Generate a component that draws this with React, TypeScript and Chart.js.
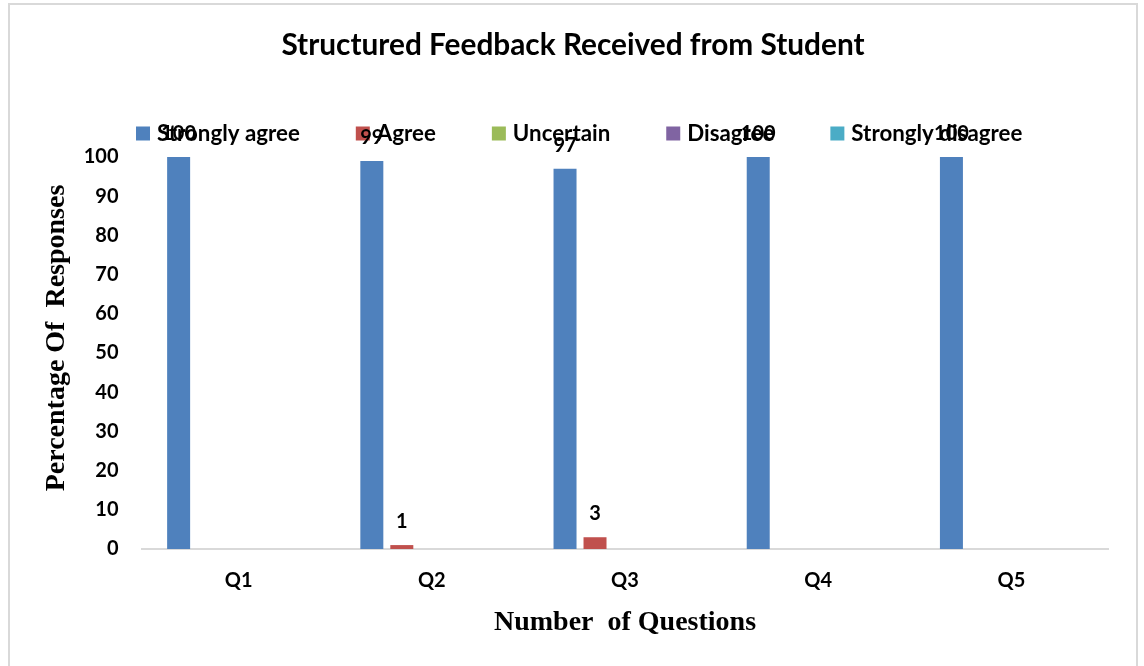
import React, { useEffect, useRef } from "react";
import { Chart, registerables } from "chart.js";

Chart.register(...registerables);

const categories = ["Q1", "Q2", "Q3", "Q4", "Q5"];
const seriesNames = ["Strongly agree", "Agree", "Uncertain", "Disagree", "Strongly disagree"];
const stronglyAgree = [100, 99, 97, 100, 100];
const agree = [0, 1, 3, 0, 0];
const uncertain = [0, 0, 0, 0, 0];
const disagree = [0, 0, 0, 0, 0];
const stronglyDisagree = [0, 0, 0, 0, 0];
const seriesColors = ["#4F81BD", "#C0504D", "#9BBB59", "#8064A2", "#4BACC6"];
const yMin = 0;
const yMax = 100;
const yStep = 10;

const CANVAS_W = 1126;
const CANVAS_H = 661;

const legendAndLabels = {
  id: "legendAndLabels",
  afterDatasetsDraw(chart: any) {
    const ctx = chart.ctx;
    ctx.save();
    // legend
    ctx.font = "bold 22.3px Lato";
    ctx.textBaseline = "middle";
    ctx.textAlign = "left";
    let x = 126;
    const cy = 128.5;
    chart.data.datasets.forEach((ds: any) => {
      ctx.fillStyle = ds.backgroundColor;
      ctx.fillRect(x, cy - 7, 14, 14);
      x += 14 + 7;
      ctx.fillStyle = "#000";
      ctx.fillText(ds.label, x, cy);
      x += ctx.measureText(ds.label).width + 56;
    });
    // data labels
    ctx.font = "bold 20px Lato";
    ctx.textAlign = "center";
    ctx.textBaseline = "alphabetic";
    ctx.fillStyle = "#000";
    chart.data.datasets.forEach((ds: any, i: number) => {
      const meta = chart.getDatasetMeta(i);
      meta.data.forEach((bar: any, j: number) => {
        const v = ds.data[j];
        if (v > 0) ctx.fillText(String(v), bar.x, bar.y - 17);
      });
    });
    ctx.restore();
  },
};

// shift the chart title and the y-axis title to where the reference places them
const shiftTitles = {
  id: "shiftTitles",
  beforeDraw(chart: any) {
    const s = chart.scales.y;
    if (s && !s._shiftWrapped) {
      const orig = s.drawTitle.bind(s);
      s.drawTitle = function () {
        const c = chart.ctx;
        c.save();
        c.translate(0, -15);
        orig();
        c.restore();
      };
      s._shiftWrapped = true;
    }
    const t = chart.titleBlock;
    if (t && !t._shiftWrapped) {
      const origT = t.draw.bind(t);
      t.draw = function () {
        const c = chart.ctx;
        c.save();
        c.translate(14, 0);
        origT();
        c.restore();
      };
      t._shiftWrapped = true;
    }
  },
};

export default function App() {
  const ref = useRef<HTMLCanvasElement | null>(null);
  useEffect(() => {
    if (!ref.current) return;
    const values = [stronglyAgree, agree, uncertain, disagree, stronglyDisagree];
    const chart = new Chart(ref.current, {
      type: "bar",
      data: {
        labels: categories,
        datasets: seriesNames.map((name, i) => ({
          label: name,
          data: values[i],
          backgroundColor: seriesColors[i],
          borderWidth: 0,
          categoryPercentage: 0.776,
          barPercentage: 0.767,
        })),
      },
      options: {
        responsive: false,
        animation: false,
        layout: { padding: { left: 0, right: 28, top: 0, bottom: 0 } },
        plugins: {
          legend: { display: false },
          tooltip: { enabled: false },
          title: {
            display: true,
            text: "Structured Feedback Received from Student",
            color: "#000",
            font: { family: "Lato", size: 29.8, weight: "bold", lineHeight: 1.2 },
            padding: { top: 22.6, bottom: 93.6 },
          },
        },
        scales: {
          x: {
            grid: { display: false, drawTicks: false },
            border: { display: true, color: "#d9d9d9", width: 2 },
            ticks: {
              color: "#000",
              font: { family: "Lato", size: 20, weight: "bold", lineHeight: 1.2 },
              padding: 20,
            },
            title: {
              display: true,
              text: "Number  of Questions",
              color: "#000",
              font: { family: "Liberation Serif", size: 28, weight: "bold", lineHeight: 1.2 },
              padding: { top: 0, bottom: 26.5 },
            },
            afterFit(scale: any) {
              scale.height = 117;
            },
          },
          y: {
            min: yMin,
            max: yMax,
            grid: { display: false, drawTicks: false },
            border: { display: false },
            ticks: {
              stepSize: yStep,
              color: "#000",
              font: { family: "Lato", size: 20, weight: "bold", lineHeight: 1.2 },
              padding: 23.5,
            },
            title: {
              display: true,
              text: "Percentage Of  Responses",
              color: "#000",
              font: { family: "Liberation Serif", size: 28, weight: "bold", lineHeight: 1.2 },
              padding: { top: 30.2, bottom: 0 },
            },
            afterFit(scale: any) {
              scale.width = 132;
            },
          },
        },
      },
      plugins: [legendAndLabels, shiftTitles],
    });
    return () => chart.destroy();
  }, []);

  return (
    <div
      style={{
        position: "absolute",
        left: 8,
        top: 3,
        width: 1130,
        height: 663,
        boxSizing: "border-box",
        border: "2px solid #d9d9d9",
        borderBottom: "none",
        background: "#fff",
        overflow: "hidden",
      }}
    >
      <canvas ref={ref} width={CANVAS_W} height={CANVAS_H} style={{ display: "block", width: CANVAS_W, height: CANVAS_H }} />
    </div>
  );
}
